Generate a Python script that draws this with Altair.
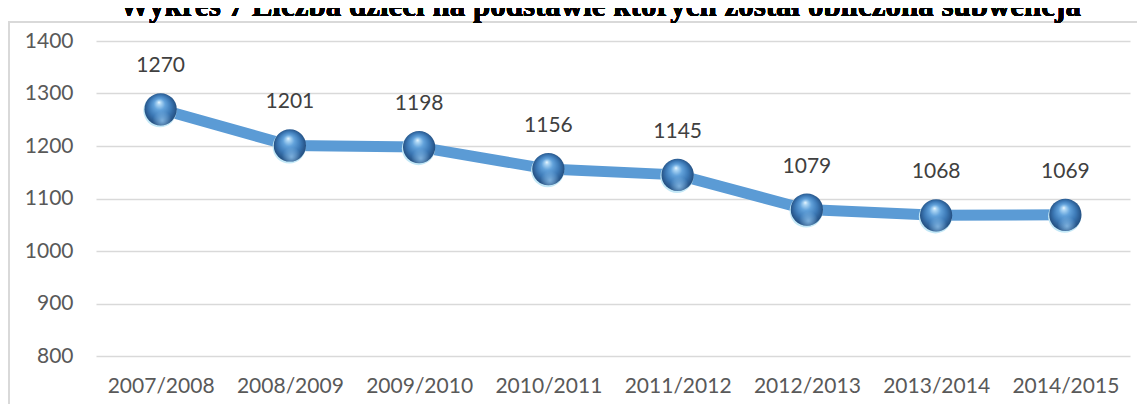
import altair as alt
import pandas as pd

years = ["2007/2008", "2008/2009", "2009/2010", "2010/2011",
         "2011/2012", "2012/2013", "2013/2014", "2014/2015"]
values = [1270, 1201, 1198, 1156, 1145, 1079, 1068, 1069]
y_ticks = [800, 900, 1000, 1100, 1200, 1300, 1400]
title_text = "Wykres 7 Liczba dzieci na podstawie których został obliczona subwencja"

df = pd.DataFrame({"rok": years, "liczba": values})

PW, PH = 1034, 315
PAD = {"left": 88, "top": 33, "right": 7, "bottom": 48}

x_enc = alt.X("rok:N", sort=years,
              scale=alt.Scale(type="point", padding=0.5),
              axis=alt.Axis(title=None, labelAngle=0, domain=False, ticks=False,
                            grid=False, labelPadding=19, labelFontSize=21,
                            labelFont="Lato", labelColor="#595959"))
y_enc = alt.Y("liczba:Q",
              scale=alt.Scale(domain=[800, 1400], nice=False, zero=False),
              axis=alt.Axis(title=None, values=y_ticks, format="d", domain=False,
                            ticks=False, grid=True, gridColor="#D9D9D9", gridWidth=1.4,
                            labelPadding=23, labelFontSize=21, labelFont="Lato",
                            labelColor="#595959"))

base = alt.Chart(df).encode(x=x_enc, y=y_enc)

line = base.mark_line(color="#5B9BD5", strokeWidth=11, strokeJoin="round")

rim = base.mark_circle(size=1100, color="#C3E8F7", opacity=1, yOffset=1.5, xOffset=-0.7)

sphere_fill = alt.RadialGradient(
    gradient="radial",
    x1=0.45, y1=0.28, r1=0.0,
    x2=0.5, y2=0.5, r2=0.55,
    stops=[
        alt.GradientStop(offset=0.0, color="#F4FBFF"),
        alt.GradientStop(offset=0.1, color="#B0D8F5"),
        alt.GradientStop(offset=0.32, color="#62A2DB"),
        alt.GradientStop(offset=0.62, color="#3D7AB7"),
        alt.GradientStop(offset=0.85, color="#29598E"),
        alt.GradientStop(offset=1.0, color="#1E4470"),
    ],
)
sphere = base.mark_circle(size=1040, fill=sphere_fill, opacity=1, strokeWidth=0)

glow_fill = alt.RadialGradient(
    gradient="radial",
    x1=0.55, y1=0.85, r1=0.0,
    x2=0.55, y2=0.85, r2=0.3,
    stops=[
        alt.GradientStop(offset=0.0, color="rgba(150,200,240,0.75)"),
        alt.GradientStop(offset=1.0, color="rgba(150,200,240,0)"),
    ],
)
glow = base.mark_circle(size=1040, fill=glow_fill, opacity=1, strokeWidth=0)

labels = base.mark_text(dy=-43, fontSize=21, font="Lato", color="#404040").encode(
    text=alt.Text("liczba:Q"))

frame_top = alt.Chart(df).mark_rule(color="#D9D9D9", strokeWidth=1.5).encode(
    x=alt.value(-88), x2=alt.value(PW + PAD["right"]), y=alt.value(-19))
frame_left = alt.Chart(df).mark_rule(color="#D9D9D9", strokeWidth=1.5).encode(
    x=alt.value(-87), y=alt.value(-19), y2=alt.value(PH + PAD["bottom"]))

title = alt.Chart(df).mark_text(
    text=title_text, font="Liberation Serif", fontWeight="bold", fontSize=31,
    color="#000000", align="center", baseline="alphabetic").encode(
    x=alt.value(504), y=alt.value(-25))

chart = alt.layer(frame_top, frame_left, title, line, rim, sphere, glow, labels).properties(
    width=PW, height=PH, padding=PAD, autosize="none"
).configure_view(stroke=None)

chart.save("out.html", embed_options={"renderer": "svg", "actions": False})
